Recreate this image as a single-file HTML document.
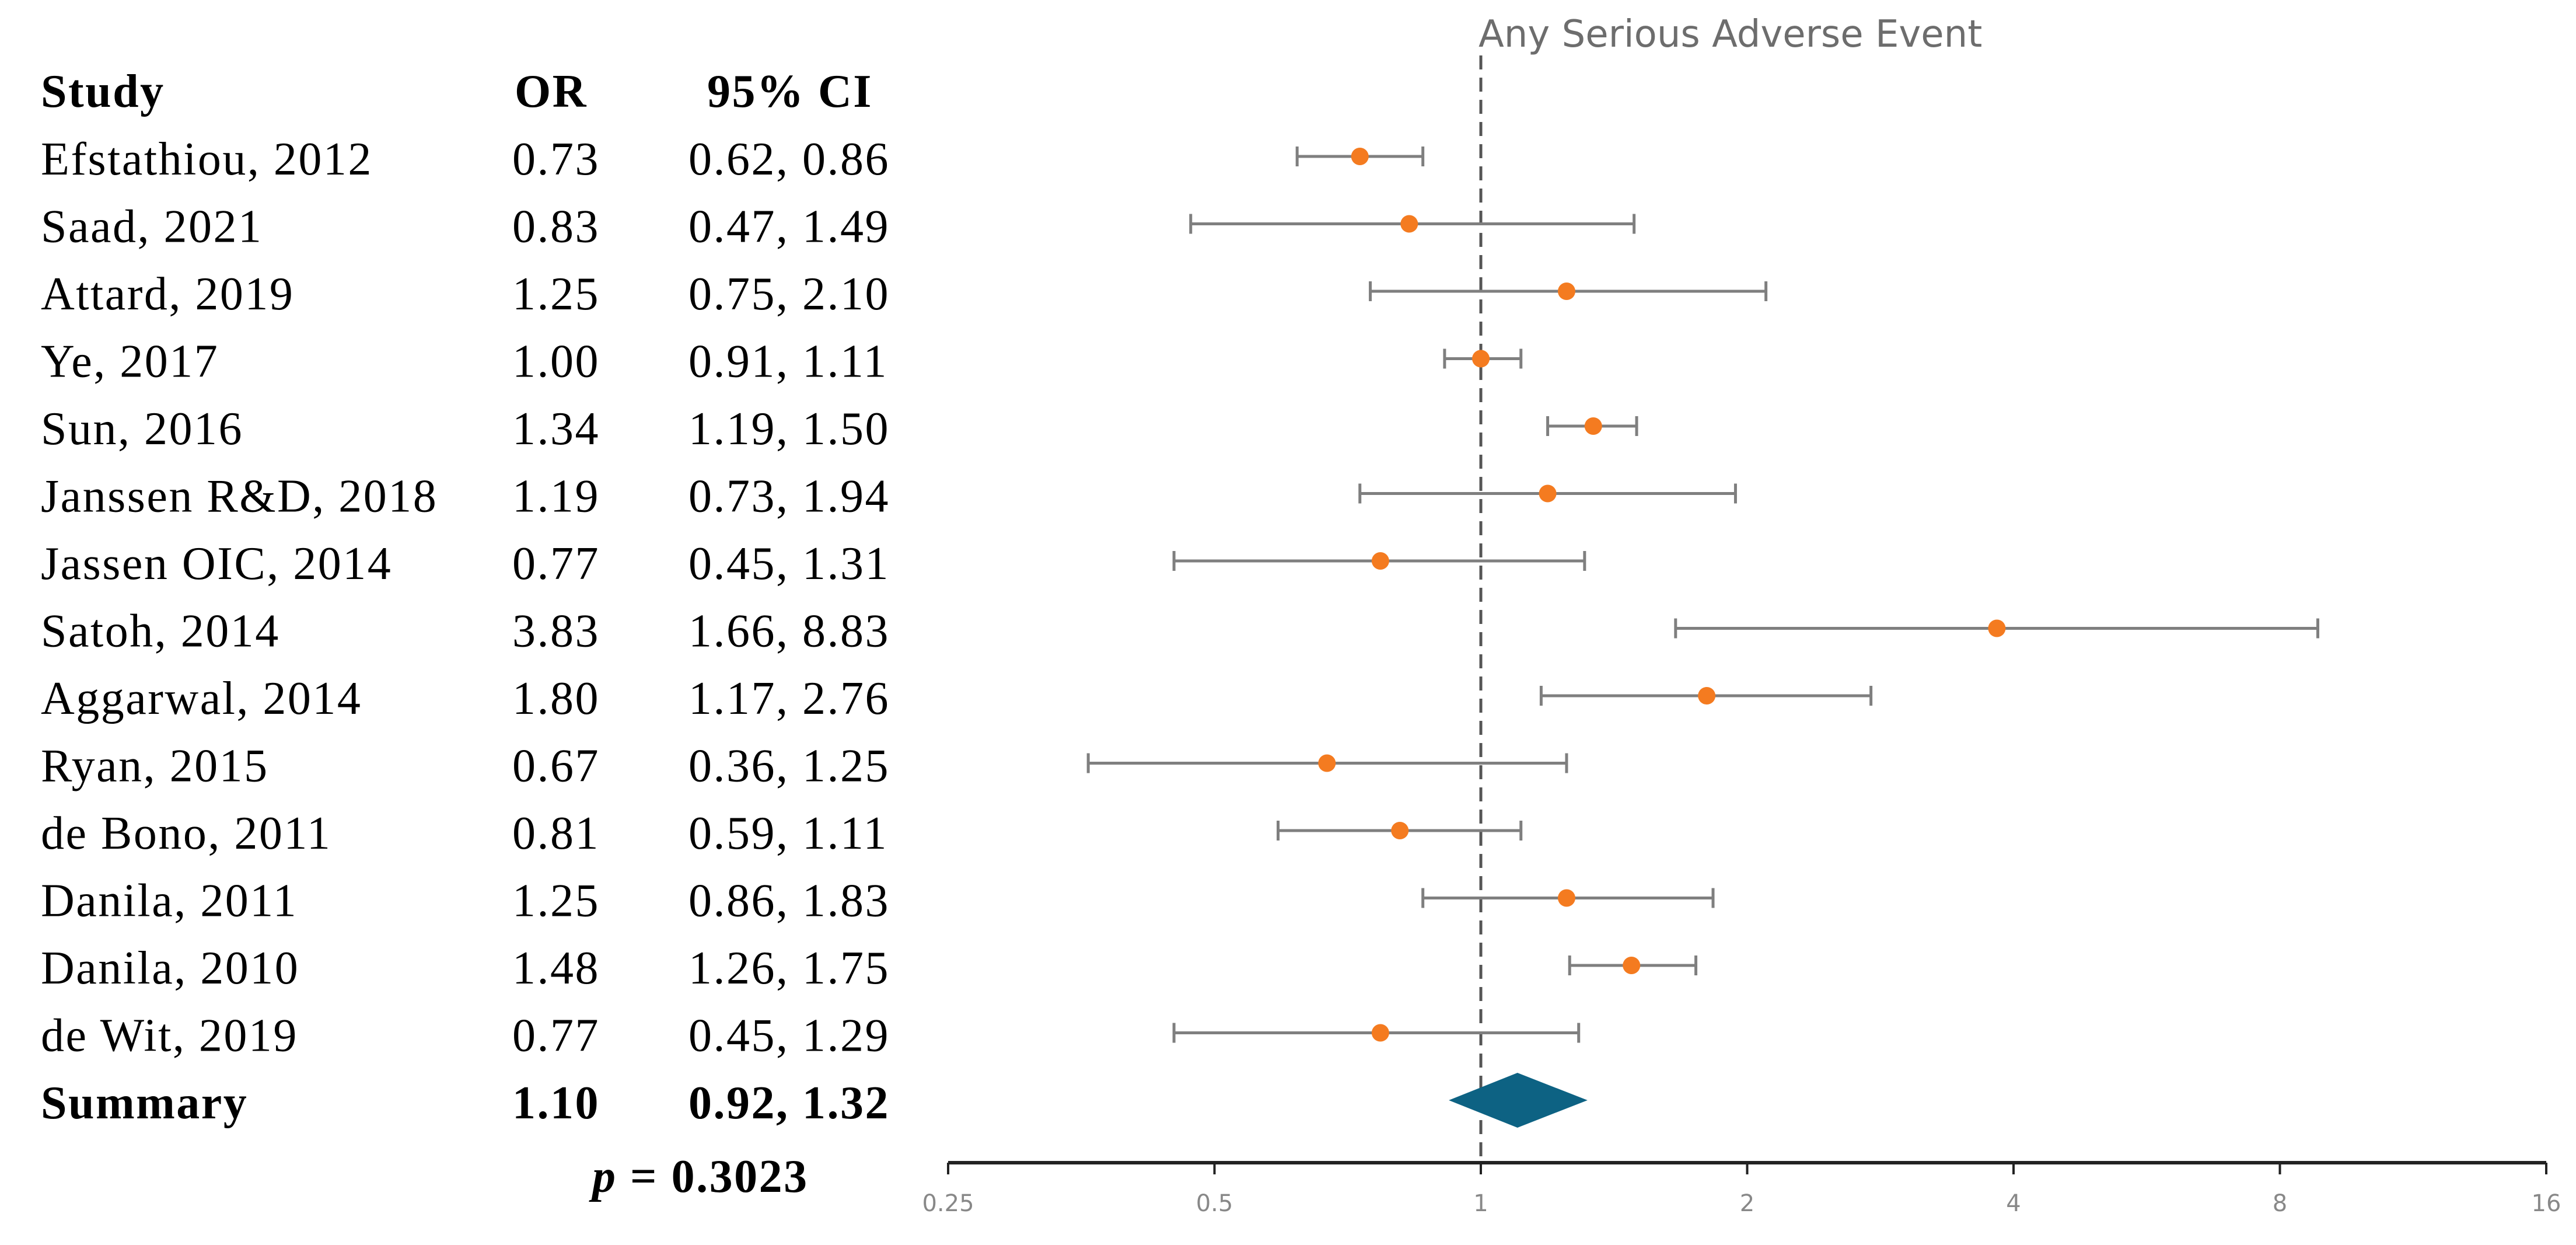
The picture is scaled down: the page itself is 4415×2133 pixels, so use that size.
<!DOCTYPE html>
<html><head><meta charset="utf-8"><style>
html,body{margin:0;padding:0;background:#fff;}
svg{display:block;}
</style></head><body>
<svg id="chart" width="4415" height="2133" xmlns="http://www.w3.org/2000/svg"></svg>
<script>
const studies = ["Efstathiou, 2012","Saad, 2021","Attard, 2019","Ye, 2017","Sun, 2016","Janssen R&D, 2018","Jassen OIC, 2014","Satoh, 2014","Aggarwal, 2014","Ryan, 2015","de Bono, 2011","Danila, 2011","Danila, 2010","de Wit, 2019"];
const orValues = [0.73,0.83,1.25,1.00,1.34,1.19,0.77,3.83,1.80,0.67,0.81,1.25,1.48,0.77];
const ciLower = [0.62,0.47,0.75,0.91,1.19,0.73,0.45,1.66,1.17,0.36,0.59,0.86,1.26,0.45];
const ciUpper = [0.86,1.49,2.10,1.11,1.50,1.94,1.31,8.83,2.76,1.25,1.11,1.83,1.75,1.29];
const summaryOR = 1.10, summaryLo = 0.92, summaryHi = 1.32;
const tickValues = [0.25,0.5,1,2,4,8,16];
const tickLabels = ["0.25","0.5","1","2","4","8","16"];

const NS="http://www.w3.org/2000/svg";
const svg=document.getElementById('chart');
const x0=1625, octave=456.5;
function xScale(v){return x0+Math.log2(v/0.25)*octave;}
const rowY0=268, rowStep=115.5;
function yScale(i){return rowY0+i*rowStep;}
function mk(tag,attrs){const e=document.createElementNS(NS,tag);for(const k in attrs)e.setAttribute(k,attrs[k]);svg.appendChild(e);return e;}
function txt(s,x,y,attrs){const e=mk('text',Object.assign({x:x,y:y},attrs));e.textContent=s;return e;}
const serif='"Liberation Serif", serif';
const FS=80, LS=2.5;

let t;
t=txt("Study",70,183,{'font-family':serif,'font-size':FS,'font-weight':'bold','letter-spacing':LS});


t=txt("OR",882,183,{'font-family':serif,'font-size':FS,'font-weight':'bold','letter-spacing':LS});


t=txt("95% CI",1212,183,{'font-family':serif,'font-size':FS,'font-weight':'bold','letter-spacing':LS});



t=txt("Any Serious Adverse Event",2534,80,{'font-family':'"DejaVu Sans", sans-serif','font-size':64,fill:'#6d6d6d'});



const ref=mk('line',{x1:xScale(1),x2:xScale(1),y1:95,y2:1990,stroke:'#555','stroke-width':5,'stroke-dasharray':'24,14'});



for(let i=0;i<studies.length;i++){
  const y=yScale(i);
  t=txt(studies[i],70,y+31,{'font-family':serif,'font-size':FS,'letter-spacing':LS});
  
  
  t=txt(orValues[i].toFixed(2),878,y+31,{'font-family':serif,'font-size':FS,'letter-spacing':LS});
  
  
  t=txt(ciLower[i].toFixed(2)+", "+ciUpper[i].toFixed(2),1180,y+31,{'font-family':serif,'font-size':FS,'letter-spacing':LS});
  
  
  const g=mk('g',{stroke:'#7f7f7f','stroke-width':5});
  
  
  const a=xScale(ciLower[i]),b=xScale(ciUpper[i]);
  const l1=document.createElementNS(NS,'line');l1.setAttribute('x1',a);l1.setAttribute('x2',b);l1.setAttribute('y1',y);l1.setAttribute('y2',y);g.appendChild(l1);
  const l2=document.createElementNS(NS,'line');l2.setAttribute('x1',a);l2.setAttribute('x2',a);l2.setAttribute('y1',y-17);l2.setAttribute('y2',y+17);g.appendChild(l2);
  const l3=document.createElementNS(NS,'line');l3.setAttribute('x1',b);l3.setAttribute('x2',b);l3.setAttribute('y1',y-17);l3.setAttribute('y2',y+17);g.appendChild(l3);
  const c=mk('circle',{cx:xScale(orValues[i]),cy:y,r:15,fill:'#f47b20'});
  
  
}
const ys=yScale(studies.length);
t=txt("Summary",70,ys+31,{'font-family':serif,'font-size':FS,'font-weight':'bold','letter-spacing':LS});


t=txt(summaryOR.toFixed(2),878,ys+31,{'font-family':serif,'font-size':FS,'font-weight':'bold','letter-spacing':LS});


t=txt(summaryLo.toFixed(2)+", "+summaryHi.toFixed(2),1180,ys+31,{'font-family':serif,'font-size':FS,'font-weight':'bold','letter-spacing':LS});


const dm=mk('polygon',{points:[xScale(summaryLo)+','+ys, xScale(summaryOR)+','+(ys-47), xScale(summaryHi)+','+ys, xScale(summaryOR)+','+(ys+47)].join(' '),fill:'#0d6283'});



const p=mk('text',{x:1015,y:2042,'font-family':serif,'font-size':FS,'font-weight':'bold','letter-spacing':LS});
p.innerHTML='<tspan font-style="italic">p</tspan> = 0.3023';



const ax=mk('line',{x1:xScale(0.25),x2:xScale(16),y1:1992,y2:1992,stroke:'#222','stroke-width':6});


for(let k=0;k<tickValues.length;k++){
  const x=xScale(tickValues[k]);
  const tk=mk('line',{x1:x,x2:x,y1:1992,y2:2012,stroke:'#222','stroke-width':4});
  
  
  t=txt(tickLabels[k],x,2075,{'font-family':'"DejaVu Sans", sans-serif','font-size':40,fill:'#888','text-anchor':'middle'});
  
  
}
</script>
</body></html>
